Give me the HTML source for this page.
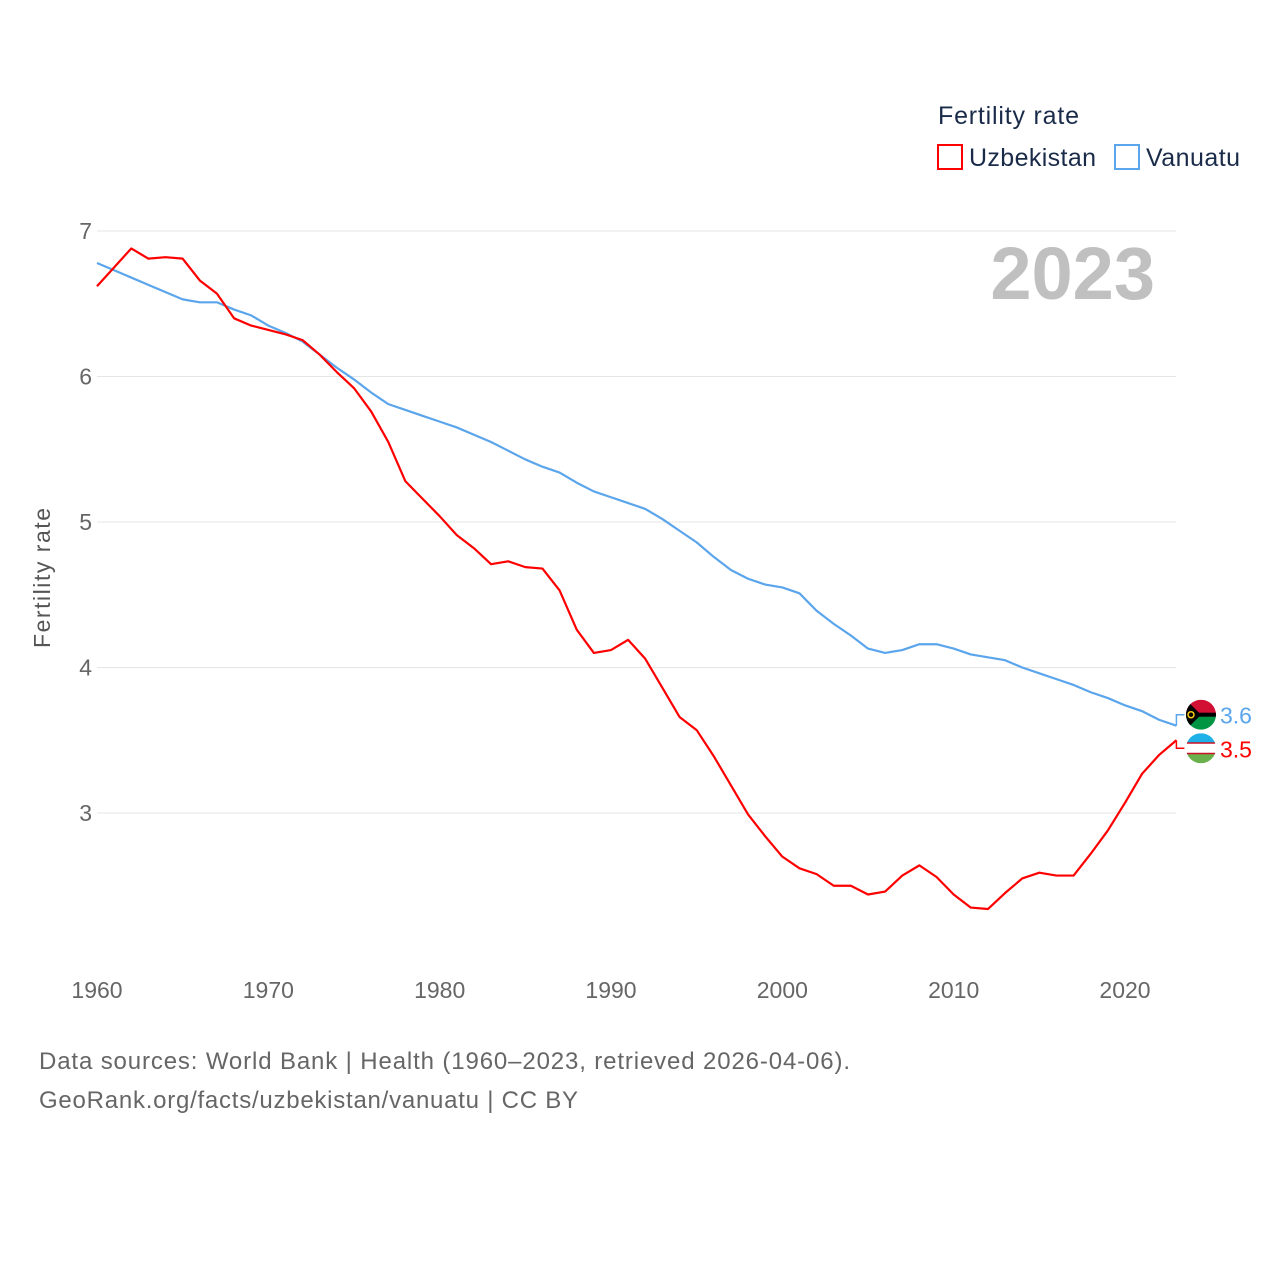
<!DOCTYPE html>
<html><head><meta charset="utf-8"><style>
body{margin:0;background:#fff;font-family:"Liberation Sans",sans-serif}
svg text{font-family:"Liberation Sans",sans-serif}
</style></head><body>
<svg id="chart" width="1280" height="1280" viewBox="0 0 1280 1280">
<g id="grid"></g><g id="series"></g><g id="labels"></g>
<text x="938" y="124" font-size="25" fill="#1a2b4a" textLength="141">Fertility rate</text>
<g><rect x="938" y="145" width="24" height="24" fill="none" stroke="#f00" stroke-width="2"/><text x="969" y="166" font-size="25" fill="#1a2b4a" textLength="127">Uzbekistan</text></g>
<g><rect x="1115" y="145" width="24" height="24" fill="none" stroke="#5ba5ec" stroke-width="2"/><text x="1146" y="166" font-size="25" fill="#1a2b4a" textLength="94">Vanuatu</text></g>
<text x="1155" y="299" font-size="74" font-weight="bold" fill="#c0c0c0" text-anchor="end">2023</text>
<text transform="translate(50,578) rotate(-90)" font-size="23" fill="#555" text-anchor="middle" textLength="140">Fertility rate</text>
<text x="39" y="1069" font-size="24" fill="#666" textLength="811">Data sources: World Bank | Health (1960–2023, retrieved 2026-04-06).</text>
<text x="39" y="1108" font-size="24" fill="#666" textLength="539">GeoRank.org/facts/uzbekistan/vanuatu | CC BY</text>
</svg>
<script>
const years=[];for(let y=1960;y<=2023;y++)years.push(y);
const uzbekistan=[6.62,6.75,6.88,6.81,6.82,6.81,6.66,6.57,6.40,6.35,6.32,6.29,6.25,6.15,6.03,5.92,5.76,5.55,5.28,5.16,5.04,4.91,4.82,4.71,4.73,4.69,4.68,4.53,4.26,4.10,4.12,4.19,4.06,3.86,3.66,3.57,3.39,3.19,2.99,2.84,2.70,2.62,2.58,2.50,2.50,2.44,2.46,2.57,2.64,2.56,2.44,2.35,2.34,2.45,2.55,2.59,2.57,2.57,2.72,2.88,3.07,3.27,3.40,3.50];
const vanuatu=[6.78,6.73,6.68,6.63,6.58,6.53,6.51,6.51,6.46,6.42,6.35,6.30,6.24,6.15,6.06,5.98,5.89,5.81,5.77,5.73,5.69,5.65,5.60,5.55,5.49,5.43,5.38,5.34,5.27,5.21,5.17,5.13,5.09,5.02,4.94,4.86,4.76,4.67,4.61,4.57,4.55,4.51,4.39,4.30,4.22,4.13,4.10,4.12,4.16,4.16,4.13,4.09,4.07,4.05,4.00,3.96,3.92,3.88,3.83,3.79,3.74,3.70,3.64,3.60];
const yTicks=[3,4,5,6,7];
const xTicks=[1960,1970,1980,1990,2000,2010,2020];
const NS="http://www.w3.org/2000/svg";
const X=y=>97+(y-1960)*(1028/60);
const Y=v=>231+(7-v)*145.5;
function mk(t,a,p){const e=document.createElementNS(NS,t);for(const k in a)e.setAttribute(k,a[k]);p.appendChild(e);return e;}
const grid=document.getElementById('grid'),ser=document.getElementById('series'),lab=document.getElementById('labels');
yTicks.forEach(v=>{
 const l=mk('line',{x1:97,x2:1176,y1:Y(v),y2:Y(v),stroke:'#e6e6e6','stroke-width':1},grid);
 
 
 const t=mk('text',{x:92,y:Y(v)+8,'font-size':23,fill:'#666','text-anchor':'end'},grid);t.textContent=v;
 
 
});
xTicks.forEach(v=>{
 const t=mk('text',{x:X(v),y:998,'font-size':23,fill:'#666','text-anchor':'middle'},grid);t.textContent=v;
 
 
});
function line(d,c,n){
 const p=mk('polyline',{points:d.map((v,i)=>X(years[i])+','+Y(v)).join(' '),fill:'none',stroke:c,'stroke-width':2.2,'stroke-linejoin':'round'},ser);
 
 
}
line(vanuatu,'#5ba5ec','vanuatu-line');
line(uzbekistan,'#f00','uzbekistan-line');
const lx=X(2023);
const vv=vanuatu[vanuatu.length-1],uv=uzbekistan[uzbekistan.length-1];
const vy=Y(vv)-11,uy=Y(uv)+8;
mk('polyline',{points:`${lx},${Y(vv)} ${lx},${vy} ${lx+8},${vy}`,fill:'none',stroke:'#5ba5ec','stroke-width':1.5},lab);
mk('polyline',{points:`${lx},${Y(uv)} ${lx},${uy} ${lx+8},${uy}`,fill:'none',stroke:'#f00','stroke-width':1.5},lab);
const fv=mk('g',{},lab);


const cv=mk('clipPath',{id:'cv'},fv);mk('circle',{cx:1201,cy:vy,r:15},cv);
const gv=mk('g',{'clip-path':'url(#cv)'},fv);
mk('rect',{x:1186,y:vy-15,width:30,height:15,fill:'#d21034'},gv);
mk('rect',{x:1186,y:vy,width:30,height:15,fill:'#009543'},gv);
mk('rect',{x:1186,y:vy-2,width:30,height:4,fill:'#000'},gv);
mk('polygon',{points:`1186,${vy-15} 1201,${vy} 1186,${vy+15}`,fill:'#000'},gv);
mk('circle',{cx:1191,cy:vy,r:3,fill:'none',stroke:'#fdce12','stroke-width':1.5},gv);
const fu=mk('g',{},lab);


const cu=mk('clipPath',{id:'cu'},fu);mk('circle',{cx:1201,cy:uy,r:15},cu);
const gu=mk('g',{'clip-path':'url(#cu)'},fu);
mk('rect',{x:1186,y:uy-15,width:30,height:10,fill:'#1eb1e7'},gu);
mk('rect',{x:1186,y:uy-5,width:30,height:10,fill:'#fff'},gu);
mk('rect',{x:1186,y:uy+5,width:30,height:10,fill:'#6ab04c'},gu);
mk('rect',{x:1186,y:uy-6,width:30,height:1.5,fill:'#ce1126'},gu);
mk('rect',{x:1186,y:uy+4.5,width:30,height:1.5,fill:'#ce1126'},gu);
const t1=mk('text',{x:1220,y:vy+9,'font-size':23,fill:'#5ba5ec'},lab);t1.textContent=vv.toFixed(1);


const t2=mk('text',{x:1220,y:uy+9,'font-size':23,fill:'#f00'},lab);t2.textContent=uv.toFixed(1);


</script>
</body></html>
